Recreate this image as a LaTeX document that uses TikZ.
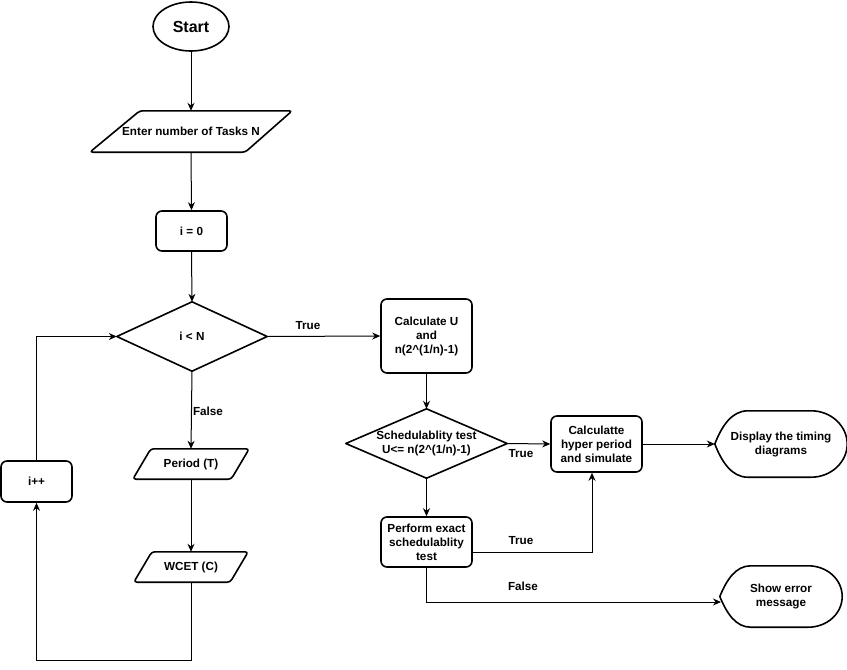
\documentclass[tikz,border=0pt]{standalone}
\usepackage{fontspec}
\setmainfont{Liberation Sans}
\usetikzlibrary{shapes.geometric,arrows.meta}
\begin{document}
\begin{tikzpicture}[x=1pt,y=-1pt,
  every node/.style={font=\fontsize{11.7}{14}\selectfont\bfseries},
  frame/.style={draw, line width=1.6pt, line join=round},
  box/.style={frame, rectangle, rounded corners=6pt, align=center, inner sep=0pt},
  hold/.style={rectangle, inner sep=0pt, align=center},
  conn/.style={line width=1pt, -{Stealth[length=8pt,width=7pt]}},
  lbl/.style={inner sep=1pt}
]
\useasboundingbox[fill=white] (0,0) rectangle (847,670);

% nodes
\node[frame, ellipse, minimum width=76pt, minimum height=49pt, inner sep=0pt,
      font=\fontsize{16}{18}\selectfont\bfseries] (start) at (191,26.5) {Start};

\node[hold, minimum width=202pt, minimum height=41pt] (enter) at (191,131.5) {Enter number of Tasks N};
\draw[frame, rounded corners=3pt] ([xshift=50pt]enter.north west) -- (enter.north east)
  -- ([xshift=-47pt]enter.south east) -- (enter.south west) -- cycle;

\node[box, minimum width=71pt, minimum height=40pt] (init) at (191.5,231) {i = 0};

\node[hold, minimum width=150pt, minimum height=69pt] (cond) at (192,336.5) {i < N};
\draw[frame] (cond.west) -- (cond.north) -- (cond.east) -- (cond.south) -- cycle;

\node[hold, minimum width=116pt, minimum height=30pt] (period) at (191,464) {Period (T)};
\draw[frame, rounded corners=3pt] ([xshift=18pt]period.north west) -- (period.north east)
  -- ([xshift=-18pt]period.south east) -- (period.south west) -- cycle;

\node[hold, minimum width=114pt, minimum height=30pt] (wcet) at (191,567) {WCET (C)};
\draw[frame, rounded corners=3pt] ([xshift=18pt]wcet.north west) -- (wcet.north east)
  -- ([xshift=-18pt]wcet.south east) -- (wcet.south west) -- cycle;

\node[box, minimum width=71pt, minimum height=41pt] (inc) at (36.5,481.5) {i++};

\node[box, minimum width=91pt, minimum height=74pt] (calc) at (426.5,336) {Calculate U\\and\\n(2\textasciicircum(1/n)-1)};

\node[hold, minimum width=161pt, minimum height=69pt] (sched) at (426.5,443.5) {Schedulablity test\\U<= n(2\textasciicircum(1/n)-1)};
\draw[frame] (sched.west) -- (sched.north) -- (sched.east) -- (sched.south) -- cycle;

\node[box, minimum width=91pt, minimum height=56pt] (hyper) at (596.5,444) {Calculatte\\hyper period\\and simulate};

\node[box, minimum width=91pt, minimum height=50pt] (exact) at (426.5,542) {Perform exact\\schedulablity\\test};

\node[hold, minimum width=132pt, minimum height=66pt] (display) at (781,444) {Display the timing\\diagrams};
\draw[frame] (display.west) .. controls +(7,-18) and +(-16,0) .. ([xshift=33pt]display.north west)
  -- ([xshift=-36pt]display.north east) .. controls +(20,0) and +(0,-18) .. (display.east)
  .. controls +(0,18) and +(20,0) .. ([xshift=-36pt]display.south east)
  -- ([xshift=33pt]display.south west) .. controls +(-16,0) and +(7,18) .. (display.west) -- cycle;

\node[hold, minimum width=122pt, minimum height=61pt] (err) at (781,596.5) {Show error\\message};
\draw[frame] (err.west) .. controls +(7,-17) and +(-15,0) .. ([xshift=31pt]err.north west)
  -- ([xshift=-34pt]err.north east) .. controls +(19,0) and +(0,-17) .. (err.east)
  .. controls +(0,17) and +(19,0) .. ([xshift=-34pt]err.south east)
  -- ([xshift=31pt]err.south west) .. controls +(-15,0) and +(7,17) .. (err.west) -- cycle;

% labels
\node[lbl] (ltrue1) at (308,326) {True};
\node[lbl] (lfalse1) at (208,411) {False};
\node[lbl] (ltrue2) at (521,454) {True};
\node[lbl] (ltrue3) at (521,541) {True};
\node[lbl] (lfalse2) at (523,586) {False};

% connectors
\draw[conn] (start.south) -- (enter.north);
\draw[conn] (enter.south) -- (init.north);
\draw[conn] (init.south) -- (cond.north);
\draw[conn] (cond.east) -- (calc.west);
\draw[conn] (cond.south) -- (period.north);
\draw[conn] (period.south) -- (wcet.north);
\coordinate (lb) at (36.5,660);
\draw[conn] (wcet.south) |- (lb) -- (inc.south);
\draw[conn] (inc.north) |- (cond.west);
\draw[conn] (calc.south) -- (sched.north);
\draw[conn] (sched.east) -- (hyper.west);
\draw[conn] (sched.south) -- (exact.north);
\draw[conn] ([yshift=-10pt]exact.east) -| ([xshift=-4.5pt]hyper.south);
\draw[conn] (hyper.east) -- (display.west);
\coordinate (ferr) at (721,602);
\draw[conn] (exact.south) |- (ferr);
\end{tikzpicture}
\end{document}
